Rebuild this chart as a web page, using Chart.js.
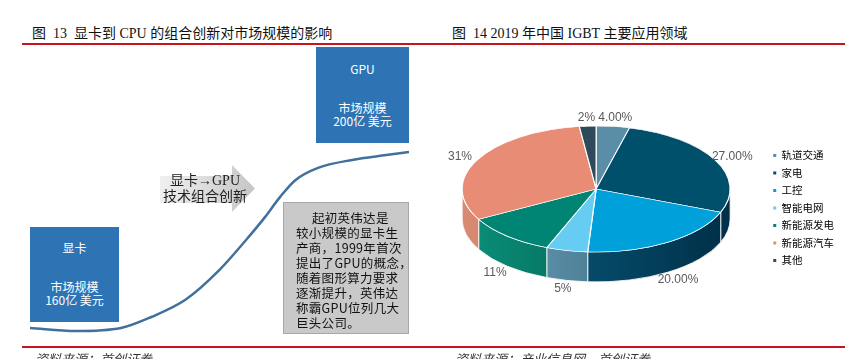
<!DOCTYPE html>
<html>
<head>
<meta charset="utf-8">
<script src="https://cdn.jsdelivr.net/npm/chart.js@4.4.0/dist/chart.umd.min.js"></script>
<style>
body { margin: 0; background: #fff; }
#page { position: relative; width: 845px; height: 359px; overflow: hidden; font-family: 'Noto Sans CJK SC', sans-serif; }
.title { position: absolute; top: 22px; font-family: 'Liberation Serif', 'Noto Sans CJK SC', serif; font-size: 14px; color: #111; white-space: nowrap; }
.rule { position: absolute; height: 2px; background: #c8141e; }
.src { position: absolute; top: 349px; font-size: 13px; font-style: italic; color: #333; white-space: nowrap; }
.blue { position: absolute; background: #2e74b5; color: #fff; font-size: 12px; }
.blue div { position: absolute; left: 0; right: 0; text-align: center; line-height: 13px; white-space: nowrap; }
#arrow { position: absolute; left: 160px; top: 165px; width: 95px; height: 47px;
  background: linear-gradient(90deg, #f0f0f0, #c6c6c6);
  clip-path: polygon(0 11px, 72px 11px, 72px 0, 95px 23.5px, 72px 47px, 72px 38px, 0 38px); }
#arrowText { position: absolute; left: 150px; top: 173px; width: 110px; text-align: center; font-family: 'Liberation Serif', 'Noto Sans CJK SC', serif; font-size: 14px; line-height: 16px; color: #222; }
#note { position: absolute; left: 283px; top: 202px; width: 126px; height: 132px; box-sizing: border-box; background: #c9c9c9; border: 1px solid #a8a8a8;
  padding: 7px 0 0 12px; font-size: 12.5px; line-height: 15px; letter-spacing: 0.3px; color: #111; white-space: nowrap; }
#curve { position: absolute; left: 30px; top: 130px; }
#pie { position: absolute; left: 420px; top: 60px; }
</style>
</head>
<body>
<div id="page">
  <div class="title" style="left:32px">图&nbsp; 13&nbsp; 显卡到 CPU 的组合创新对市场规模的影响</div>
  <div class="title" style="left:452px">图&nbsp; 14 2019 年中国 IGBT 主要应用领域</div>
  <div class="rule" style="left:22px; top:43px; width:823px"></div>

  <canvas id="curve" width="379" height="220"></canvas>

  <div class="blue" style="left:30px; top:227px; width:89px; height:95px">
    <div style="top:14px">显卡</div>
    <div style="top:53px">市场规模</div>
    <div style="top:66px">160亿 美元</div>
  </div>
  <div class="blue" style="left:316px; top:47px; width:93px; height:96px">
    <div style="top:15px">GPU</div>
    <div style="top:54px">市场规模</div>
    <div style="top:67px">200亿 美元</div>
  </div>

  <div id="arrow"></div>
  <div id="arrowText">显卡→GPU<br>技术组合创新</div>

  <div id="note">&emsp;&nbsp;起初英伟达是<br>较小规模的显卡生<br>产商，1999年首次<br>提出了GPU的概念，<br>随着图形算力要求<br>逐渐提升，英伟达<br>称霸GPU位列几大<br>巨头公司。</div>

  <canvas id="pie" width="425" height="296"></canvas>

  <div class="rule" style="left:22px; top:346px; width:823px"></div>
  <div class="src" style="left:35px">资料来源：首创证券</div>
  <div class="src" style="left:455px">资料来源：产业信息网，首创证券</div>
</div>

<script>
// S-curve: market size (亿美元) over the course of the 显卡 -> GPU transition
const curveTime = [0, 12, 24, 32, 41, 50, 57, 62, 66, 70, 76, 85, 94, 100];
const curveSize = [160, 159.3, 160, 162.5, 166.4, 173.2, 180, 185.2, 189.8, 193.6, 196.4, 198.2, 199.3, 200];

// 2019 IGBT application areas
const pieLabels = ['轨道交通', '家电', '工控', '智能电网', '新能源发电', '新能源汽车', '其他'];
const pieShares = [4, 27, 20, 5, 11, 31, 2];
const pieTexts = ['4.00%', '27.00%', '20.00%', '5%', '11%', '31%', '2%'];

const pieColors = ['#5a8ea8', '#00506b', '#00a1db', '#66ccf2', '#008575', '#e88c76', '#2e4a5a'];
const sideLight = ['#3d6f86', '#00506e', '#0a6488', '#6fa7c0', '#0a907a', '#d98a72', '#2a4656'];
const sideDark = ['#2c5568', '#00304a', '#002f47', '#2a556b', '#004a3c', '#b8654f', '#1c3440'];

// curve chart
new Chart(document.getElementById('curve'), {
    type: 'line',
    data: {
        datasets: [{
            data: curveTime.map((t, i) => ({ x: t, y: curveSize[i] })),
            borderColor: '#41709c',
            borderWidth: 2.5,
            pointRadius: 0,
            cubicInterpolationMode: 'monotone',
            clip: false
        }]
    },
    options: {
        responsive: false,
        animation: false,
        events: [],
        layout: { padding: 0 },
        plugins: { legend: { display: false }, tooltip: { enabled: false } },
        scales: {
            x: { type: 'linear', min: 0, max: 100, display: false },
            y: { min: 155, max: 205, display: false }
        }
    }
});

// fake 3D look: draw the side walls, then squash the pie into an ellipse
const pie3d = {
    id: 'pie3d',
    beforeDatasetsDraw(chart, args, opts) {
        const ctx = chart.ctx;
        const arcs = chart.getDatasetMeta(0).data;
        ctx.save();
        arcs.forEach((arc, i) => {
            const { x, y, startAngle, endAngle, outerRadius: r } = arc;
            const s = Math.max(startAngle, 0), e = Math.min(endAngle, Math.PI);
            if (e <= s) return;
            const cy = y + opts.shiftY;
            ctx.beginPath();
            ctx.ellipse(x, cy, r, r * opts.tilt, 0, s, e);
            ctx.ellipse(x, cy + opts.depth, r, r * opts.tilt, 0, e, s, true);
            ctx.closePath();
            const g = ctx.createLinearGradient(x - r, 0, x + r, 0);
            g.addColorStop(0, sideLight[i]);
            g.addColorStop(1, sideDark[i]);
            ctx.fillStyle = g;
            ctx.fill();
            ctx.strokeStyle = 'rgba(255,255,255,0.85)';
            ctx.lineWidth = 1;
            ctx.stroke();
        });
        ctx.restore();

        const a0 = arcs[0];
        ctx.save();
        ctx.translate(a0.x, a0.y + opts.shiftY);
        ctx.scale(1, opts.tilt);
        ctx.translate(-a0.x, -a0.y);
    },
    afterDatasetsDraw(chart, args, opts) {
        const ctx = chart.ctx;
        ctx.restore();
        ctx.save();
        ctx.font = '12px "Liberation Sans", Arial, sans-serif';
        ctx.fillStyle = '#595959';
        ctx.textAlign = 'center';
        ctx.textBaseline = 'middle';
        chart.getDatasetMeta(0).data.forEach((arc, i) => {
            const mid = (arc.startAngle + arc.endAngle) / 2;
            const r = arc.outerRadius * 1.14;
            const lx = arc.x + r * Math.cos(mid);
            let ly = arc.y + opts.shiftY + r * opts.tilt * Math.sin(mid);
            if (Math.sin(mid) > 0) ly += opts.depth;
            ctx.fillText(pieTexts[i], lx, ly);
        });
        ctx.restore();
    }
};

new Chart(document.getElementById('pie'), {
    type: 'pie',
    data: {
        labels: pieLabels,
        datasets: [{
            data: pieShares,
            backgroundColor: pieColors,
            borderColor: '#ffffff',
            borderWidth: 1.2,
            radius: 134
        }]
    },
    options: {
        responsive: false,
        animation: false,
        events: [],
        layout: { padding: { left: 6, right: 1 } },
        plugins: {
            pie3d: { tilt: 0.47, depth: 30, shiftY: -19 },
            tooltip: { enabled: false },
            legend: {
                position: 'right',
                labels: {
                    boxWidth: 3,
                    boxHeight: 3,
                    padding: 7,
                    color: '#404040',
                    font: { size: 10.5, family: "'Noto Sans CJK SC', sans-serif" },
                    generateLabels: () => pieLabels.map((t, i) => ({
                        text: t,
                        fillStyle: pieColors[i],
                        strokeStyle: pieColors[i],
                        lineWidth: 0,
                        hidden: false,
                        index: i
                    }))
                }
            }
        }
    },
    plugins: [pie3d]
});
</script>
</body>
</html>
